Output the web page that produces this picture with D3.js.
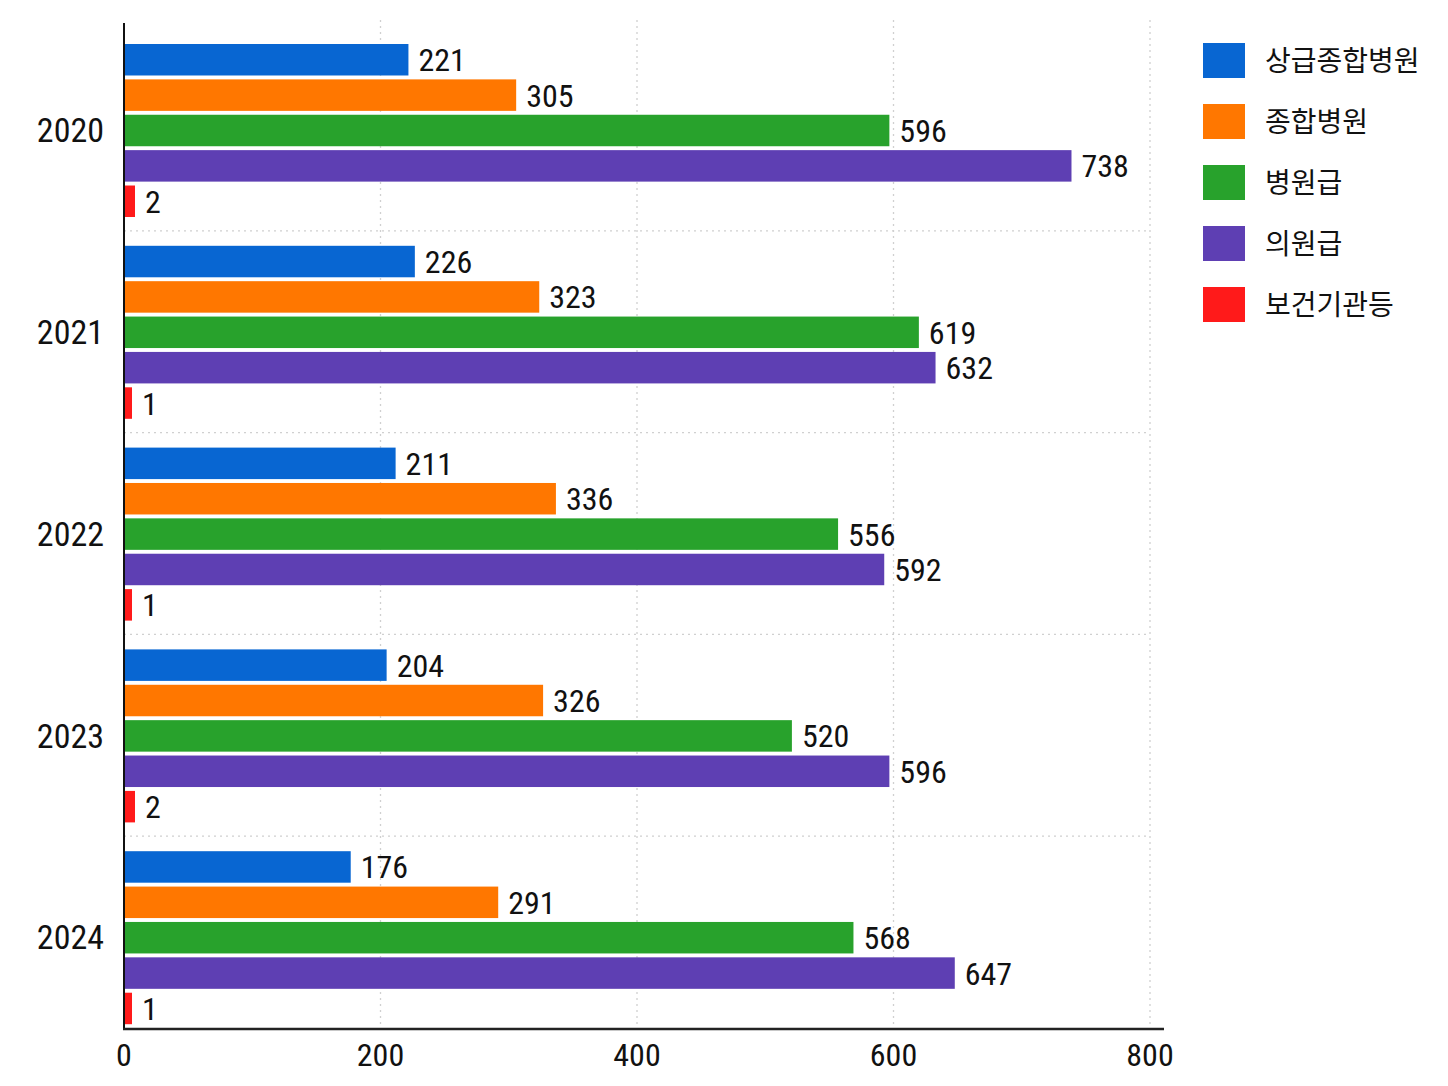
<!DOCTYPE html>
<html>
<head>
<meta charset="utf-8">
<script src="https://cdn.jsdelivr.net/npm/d3@7"></script>
<style>
  body { margin: 0; background: #fff; }
  svg { display: block; }
</style>
</head>
<body>
<svg id="chart" width="1448" height="1086"></svg>
<script>
const years = ["2020", "2021", "2022", "2023", "2024"];
const series = ["상급종합병원", "종합병원", "병원급", "의원급", "보건기관등"];
const colors = ["#0866d2", "#ff7700", "#28a22c", "#5e3fb3", "#ff1a1a"];
const values = [
  [221, 305, 596, 738, 2],
  [226, 323, 619, 632, 1],
  [211, 336, 556, 592, 1],
  [204, 326, 520, 596, 2],
  [176, 291, 568, 647, 1]
];
const xTicks = [0, 200, 400, 600, 800];

const numFont = "'Liberation Sans Narrow', 'Roboto Condensed', 'Liberation Sans', sans-serif";
const krFont = "'Noto Sans CJK KR', 'Noto Sans', sans-serif";

const svg = d3.select("#chart");
const x = d3.scaleLinear().domain([0, 800]).range([124, 1150]);
const y0 = d3.scaleBand().domain(years).range([29, 1038]);
const y1 = d3.scaleBand().domain(series).range([15, 188]).paddingInner(0.11);

// tiny values still get a visible stub
const barW = v => Math.max(x(v) - x(0), v < 5 ? 4 + v * 3 : 0);

// vertical grid
svg.append("g")
  .selectAll("line")
  .data(xTicks.slice(1))
  .join("line")
    .attr("x1", d => x(d)).attr("x2", d => x(d))
    .attr("y1", 20).attr("y2", 1029)
    .attr("stroke", "#d0d0d0")
    .attr("stroke-width", 1.3)
    .attr("stroke-dasharray", "2,4");

// group separators
svg.append("g")
  .selectAll("line")
  .data(years.slice(1))
  .join("line")
    .attr("x1", x(0)).attr("x2", x(800))
    .attr("y1", d => y0(d)).attr("y2", d => y0(d))
    .attr("stroke", "#d0d0d0")
    .attr("stroke-width", 1.3)
    .attr("stroke-dasharray", "2,4");

const rows = years.flatMap((yr, i) => series.map((s, j) => ({ yr, s, j, v: values[i][j] })));

const groups = svg.append("g");

groups.selectAll("rect")
  .data(rows)
  .join("rect")
    .attr("x", x(0) + 1)
    .attr("y", d => y0(d.yr) + y1(d.s))
    .attr("width", d => barW(d.v))
    .attr("height", y1.bandwidth())
    .attr("fill", d => colors[d.j]);

groups.selectAll("text")
  .data(rows)
  .join("text")
    .attr("x", d => x(0) + barW(d.v) + 11)
    .attr("y", d => y0(d.yr) + y1(d.s) + y1.bandwidth() / 2)
    .attr("dy", "0.36em")
    .attr("font-family", numFont)
    .attr("font-size", 32)
    .attr("fill", "#111")
    .text(d => d.v);

// year labels
svg.append("g")
  .selectAll("text")
  .data(years)
  .join("text")
    .attr("x", 104)
    .attr("y", d => y0(d) + y0.bandwidth() / 2)
    .attr("dy", "0.36em")
    .attr("text-anchor", "end")
    .attr("font-family", numFont)
    .attr("font-size", 34)
    .attr("fill", "#111")
    .text(d => d);

// axes lines
svg.append("line")
  .attr("x1", x(0)).attr("x2", x(0))
  .attr("y1", 23).attr("y2", 1030)
  .attr("stroke", "#111").attr("stroke-width", 2);
svg.append("line")
  .attr("x1", x(0) - 1).attr("x2", 1164)
  .attr("y1", 1029).attr("y2", 1029)
  .attr("stroke", "#222").attr("stroke-width", 2.5);

// x tick labels
svg.append("g")
  .selectAll("text")
  .data(xTicks)
  .join("text")
    .attr("x", d => x(d))
    .attr("y", 1054)
    .attr("dy", "0.36em")
    .attr("text-anchor", "middle")
    .attr("font-family", numFont)
    .attr("font-size", 32)
    .attr("fill", "#111")
    .text(d => d);

// legend
const legend = svg.append("g")
  .selectAll("g")
  .data(series)
  .join("g")
    .attr("transform", (d, i) => `translate(1203, ${43 + i * 61})`);
legend.append("rect")
  .attr("width", 42).attr("height", 35)
  .attr("fill", (d, i) => colors[i]);
legend.append("text")
  .attr("x", 62).attr("y", 18)
  .attr("dy", "0.36em")
  .attr("font-family", krFont)
  .attr("font-size", 28)
  .attr("fill", "#111")
  .text(d => d);
</script>
</body>
</html>
